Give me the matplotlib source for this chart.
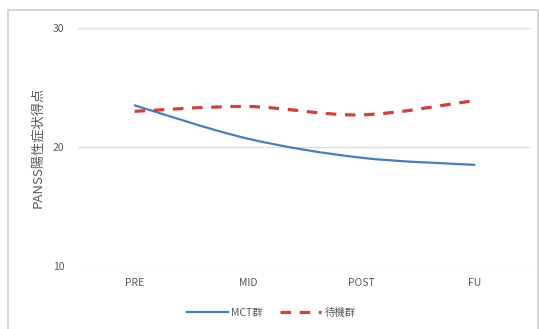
import numpy as np
import matplotlib
matplotlib.use("Agg")
import matplotlib.pyplot as plt
from matplotlib.path import Path
from matplotlib.patches import PathPatch, Rectangle
from matplotlib.lines import Line2D

plt.rcParams['font.family'] = ['Noto Sans CJK JP', 'DejaVu Sans']

# data
phases = ['PRE', 'MID', 'POST', 'FU']
mct = [23.5, 20.7, 19.1, 18.5]
waiting = [23.0, 23.4, 22.7, 23.9]
series_names = ['MCT群', '待機群']
ylabel = 'PANSS陽性症状得点'

blue = '#4a7ebb'
red = '#d0403f'
grey_txt = '#595959'


def smooth_path(x, y):
    # cubic bezier through the points (Catmull-Rom style control points)
    x = np.asarray(x, float)
    y = np.asarray(y, float)
    pts = np.column_stack([x, y])
    verts = [pts[0]]
    codes = [Path.MOVETO]
    n = len(pts)
    for i in range(n - 1):
        p0 = pts[i - 1] if i > 0 else pts[i]
        p1 = pts[i]
        p2 = pts[i + 1]
        p3 = pts[i + 2] if i + 2 < n else pts[i + 1]
        c1 = p1 + (p2 - p0) / 6.0
        c2 = p2 - (p3 - p1) / 6.0
        verts += [c1, c2, p2]
        codes += [Path.CURVE4] * 3
    return Path(verts, codes)


fig = plt.figure(figsize=(5.39, 3.29), dpi=100)
fig.patches.append(Rectangle((8 / 539, -0.01), 530 / 539, 1 - 10 / 329 + 0.01,
                             transform=fig.transFigure, fill=False,
                             edgecolor='#d0d0d0', linewidth=1.2))

ax = fig.add_axes([78 / 539, 1 - 266 / 329, 453 / 539, 238 / 329])
xs = np.arange(len(phases))

ax.add_patch(PathPatch(smooth_path(xs, mct), fill=False, edgecolor=blue,
                       linewidth=1.6, capstyle='round', zorder=3))
ax.add_patch(PathPatch(smooth_path(xs, waiting), fill=False, edgecolor=red,
                       linewidth=2.3, linestyle=(0, (3.3, 2.7)), zorder=3))

ax.set_xlim(-0.5, len(phases) - 0.5)
ax.set_ylim(10, 30)
ax.set_yticks([10, 20, 30])
ax.set_xticks(xs)
ax.set_xticklabels(phases)
ax.grid(axis='y', color='#dcdcdc', linewidth=0.9)
ax.set_axisbelow(True)
for s in ax.spines.values():
    s.set_visible(False)
ax.tick_params(length=0, labelsize=7.5, labelcolor=grey_txt)
ax.tick_params(axis='y', pad=10)
ax.tick_params(axis='x', pad=9)
ax.set_ylabel(ylabel, fontsize=9.5, color=grey_txt, labelpad=6)

handles = [Line2D([], [], color=blue, linewidth=1.6),
           Line2D([], [], color=red, linewidth=2.3, linestyle=(0, (3.3, 2.7)))]
fig.legend(handles, series_names, loc='center', bbox_to_anchor=(271 / 539, 1 - 313 / 329),
           ncol=2, frameon=False, fontsize=7.5, labelcolor=grey_txt,
           handlelength=4.0, handletextpad=0.3, columnspacing=1.6)

fig.savefig('out.png', dpi=100, facecolor='white')
